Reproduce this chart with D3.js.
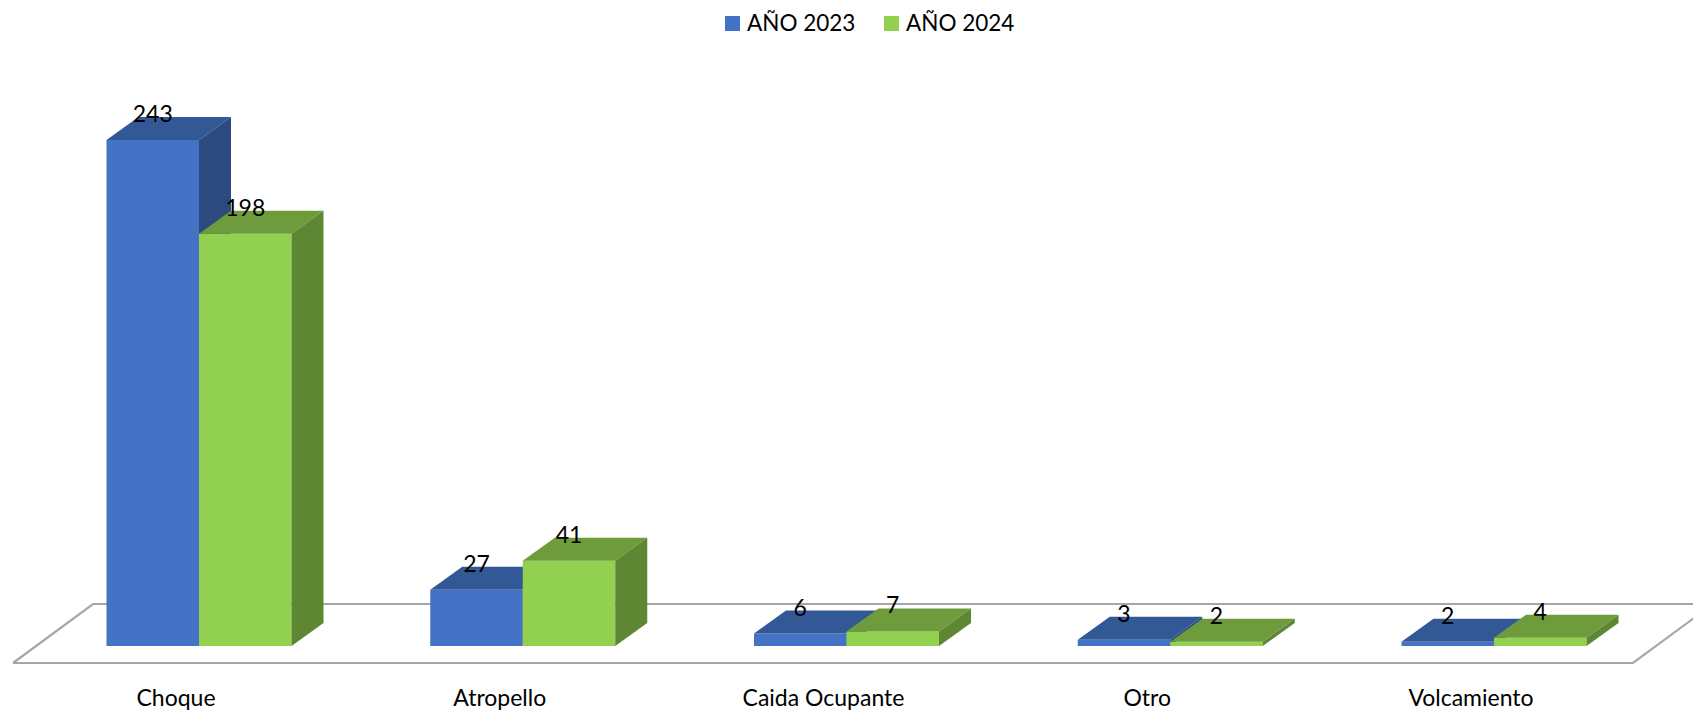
<!DOCTYPE html>
<html><head><meta charset="utf-8">
<script src="https://cdn.jsdelivr.net/npm/d3@7"></script>
<style>body{margin:0;background:#fff}svg{display:block}text{font-family:Lato,"Open Sans",sans-serif;fill:#000}</style>
</head><body><svg id="c" width="1693" height="713"></svg>
<script>
const categories = ["Choque","Atropello","Caida Ocupante","Otro","Volcamiento"];
const series = ["AÑO 2023","AÑO 2024"];
const values2023 = [243,27,6,3,2];
const values2024 = [198,41,7,2,4];
const seriesValues = [values2023, values2024];
const colors = [
  {front:"#4472C4", top:"#335896", side:"#2C4A80"},
  {front:"#92D050", top:"#6E9C3C", side:"#5D8733"}
];

const svg = d3.select("#c");
const baseY = 646, dx = 32, dy = 23;
const x0 = d3.scaleBand().domain(categories).range([37.125, 1655.875]);
const x1 = d3.scaleBand().domain(series).range([69.375, 254.375]);
const y = d3.scaleLinear().domain([0, 243]).range([baseY, 140]);

// floor
svg.append("path")
  .attr("d", "M13,663 L93,604 L1713,604 M13,663 L1633,663 L1713,604")
  .attr("fill","none").attr("stroke","#A6A6A6").attr("stroke-width",2.2);

const data = [];
categories.forEach((c,i)=>series.forEach((s,j)=>data.push({c,s,j,v:seriesValues[j][i]})));

const g = svg.append("g");
data.forEach(d=>{
  const xl = x0(d.c) + x1(d.s), xr = xl + x1.bandwidth();
  const yt = y(d.v);
  const col = colors[d.j];
  const bg = g.append("g");
  bg.append("rect").attr("x",xl).attr("y",yt).attr("width",xr-xl).attr("height",baseY-yt).attr("fill",col.front);
  bg.append("path").attr("d",`M${xl},${yt} L${xl+dx},${yt-dy} L${xr+dx},${yt-dy} L${xr},${yt} Z`).attr("fill",col.top);
  bg.append("path").attr("d",`M${xr},${yt} L${xr+dx},${yt-dy} L${xr+dx},${baseY-dy} L${xr},${baseY} Z`).attr("fill",col.side);
});
data.forEach(d=>{
  const xl = x0(d.c) + x1(d.s);
  g.append("text").attr("x", xl + x1.bandwidth()/2).attr("y", y(d.v) - 18)
    .attr("text-anchor","middle").attr("font-size",23).text(d.v);
});

// category labels
svg.append("g").selectAll("text").data(categories).join("text")
  .attr("x", d=>x0(d)+x0.bandwidth()/2-23).attr("y",706)
  .attr("text-anchor","middle").attr("font-size",23).text(d=>d);

// legend
const leg = svg.append("g");
const legX = [725, 884];
series.forEach((s,j)=>{
  leg.append("rect").attr("x",legX[j]).attr("y",16).attr("width",15).attr("height",15).attr("fill",colors[j].front);
  leg.append("text").attr("x",legX[j]+22).attr("y",31).attr("font-size",22.5).text(s);
});
</script></body></html>
